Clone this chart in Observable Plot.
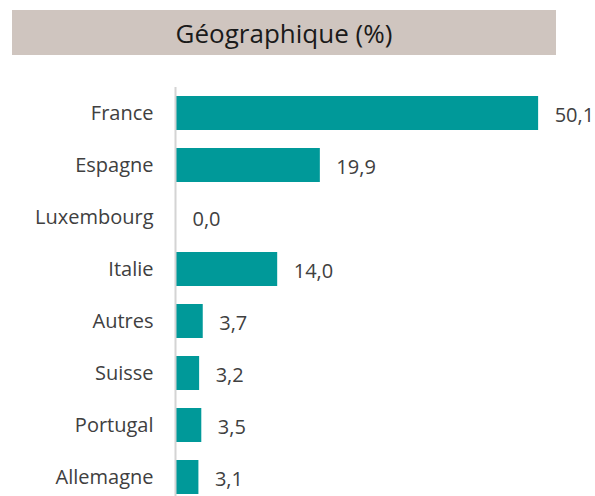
<!DOCTYPE html>
<html>
<head>
<meta charset="utf-8">
<script src="https://cdn.jsdelivr.net/npm/d3@7"></script>
<script src="https://cdn.jsdelivr.net/npm/@observablehq/plot@0.6"></script>
<style>
  html, body { margin: 0; padding: 0; background: #fff; overflow: hidden; width: 595px; height: 496px; }
  #title {
    position: absolute; left: 12px; top: 10px; width: 544px; height: 45px;
    background: #cfc5bf; color: #1a1a1a;
    font-family: "Open Sans", "Noto Sans", sans-serif; font-size: 26px;
    display: flex; align-items: center; justify-content: center;
  }
  #chart { position: absolute; left: 0; top: 54px; }
</style>
</head>
<body>
<div id="title">Géographique (%)</div>
<div id="chart"></div>
<script>
const categories = ["France", "Espagne", "Luxembourg", "Italie", "Autres", "Suisse", "Portugal", "Allemagne"];
const values = [50.1, 19.9, 0.0, 14.0, 3.7, 3.2, 3.5, 3.1];

const data = categories.map((c, i) => ({category: c, value: values[i]}));
const fmt = v => v.toFixed(1).replace(".", ",");
const font = "'Open Sans', 'Noto Sans', sans-serif";

const chart = Plot.plot({
  width: 595,
  height: 459,
  marginTop: 22,
  marginBottom: 0,
  marginLeft: 176,
  marginRight: 7,
  style: {fontFamily: font, fontSize: "20px", color: "#404040", background: "transparent"},
  x: {domain: [0, 57], axis: null},
  y: {domain: categories, padding: 0.35, label: null},
  marks: [
    Plot.barX(data, {x: "value", y: "category", fill: "#009999"}),
    Plot.ruleX([0], {stroke: "#d4d4d4", strokeWidth: 2, dx: -1, insetTop: 11}),
    Plot.text(data, {x: "value", y: "category", text: d => fmt(d.value), textAnchor: "start", dx: 16, dy: 2, fill: "#404040", fontSize: 20}),
    Plot.axisY({tickSize: 0, tickPadding: 23, fontSize: 20, label: null, fill: "#404040"})
  ]
});
document.getElementById("chart").appendChild(chart);
</script>
</body>
</html>
